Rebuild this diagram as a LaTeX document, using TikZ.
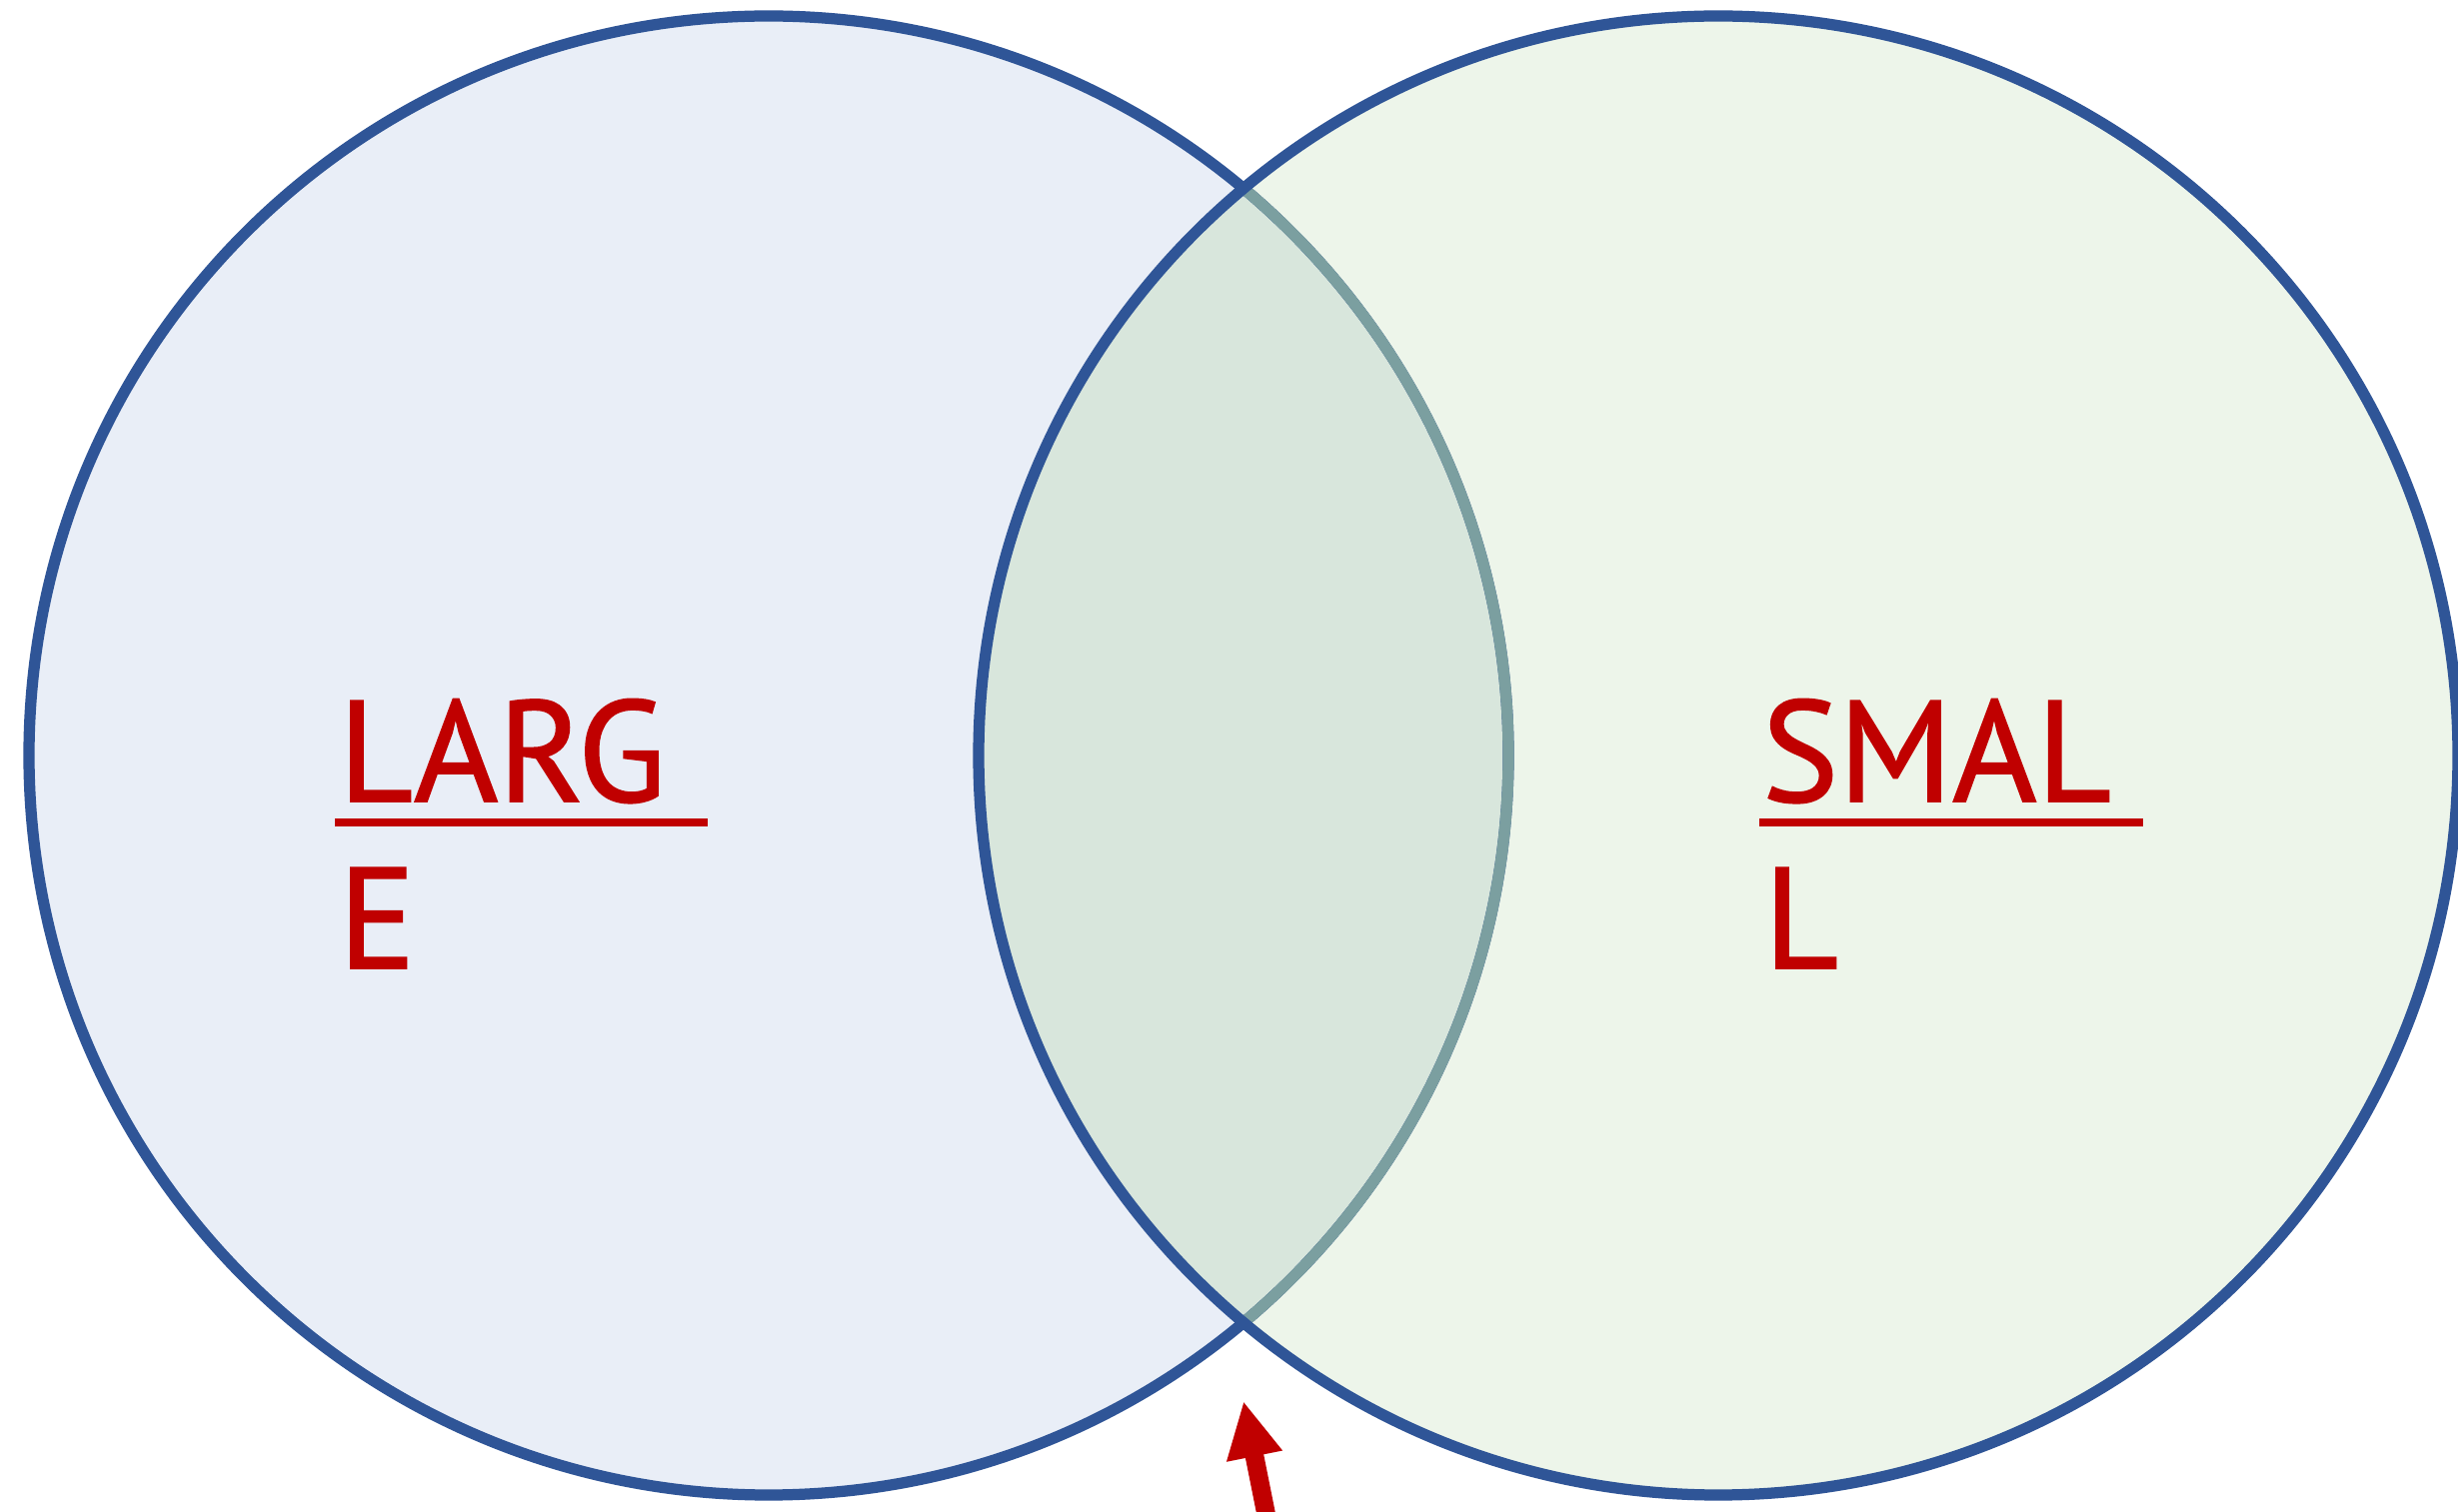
\documentclass[tikz,border=0pt]{standalone}
\usepackage{fontspec}
\setmainfont{PT Sans}
\newfontfamily\labelfont{PT Sans}[FakeBold=1.2]
\usetikzlibrary{arrows.meta}
\definecolor{leftfill}{HTML}{E9EEF7}
\definecolor{rightfill}{HTML}{EDF5EA}
\definecolor{overlapfill}{HTML}{D8E6DC}
\definecolor{ringblue}{HTML}{2F5597}
\definecolor{ringmuted}{HTML}{7B9FA0}
\definecolor{labelred}{HTML}{C00000}
\tikzset{
  ring/.style={line width=3.2pt},
  lbl/.style={inner sep=0pt, anchor=base west, text=labelred, font=\labelfont\fontsize{41}{41}\selectfont},
  uline/.style={draw=labelred, line width=2.3pt},
  pointer/.style={draw=labelred, line width=5.3pt, -{Triangle[width=15pt,length=16pt]}}
}
\begin{document}
\begin{tikzpicture}
\useasboundingbox (0,0) rectangle (24.59,15.12);
\clip (0,0) rectangle (24.59,15.12);
\coordinate (cl) at (7.69,7.56);
\coordinate (cr) at (17.19,7.56);
% fills
\fill[leftfill] (cl) circle (7.40);
\fill[rightfill] (cr) circle (7.40);
\begin{scope}
  \clip (cr) circle (7.40);
  \fill[overlapfill] (cl) circle (7.40);
\end{scope}
% strokes
\draw[ring, ringblue] (cl) circle (7.40);
\begin{scope}
  \clip (cr) circle (7.40);
  \draw[ring, ringmuted] (cl) circle (7.40);
\end{scope}
\draw[ring, ringblue] (cr) circle (7.40);
% labels
\node[lbl] (large1) at (3.38,7.10) {LARG};
\node[lbl] (large2) at (3.38,5.43) {E};
\node[lbl] (small1) at (17.62,7.10) {SMAL};
\node[lbl] (small2) at (17.64,5.43) {L};
\coordinate (ulA) at (3.35,6.89);
\coordinate (ulB) at (7.08,6.89);
\coordinate (urA) at (17.60,6.89);
\coordinate (urB) at (21.44,6.89);
\draw[uline] (ulA) -- (ulB);
\draw[uline] (urA) -- (urB);
% arrow
\coordinate (arrowfoot) at (12.72,-0.30);
\coordinate (arrowtip) at (12.44,1.10);
\draw[pointer] (arrowfoot) -- (arrowtip);
\end{tikzpicture}
\end{document}
